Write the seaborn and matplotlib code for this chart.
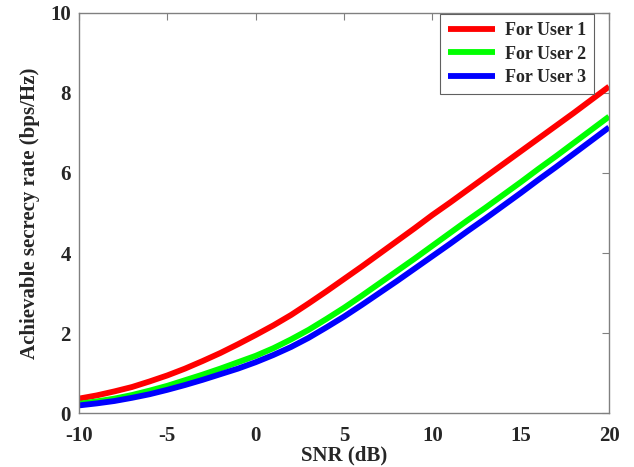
import matplotlib
matplotlib.use("Agg")
import matplotlib.pyplot as plt
import seaborn as sns
import pandas as pd

# SNR grid (dB) and achievable secrecy rate for each user (bps/Hz)
snr_db = list(range(-10, 21))
rate_user1 = [0.36, 0.44, 0.54, 0.65, 0.79, 0.94, 1.11, 1.30, 1.50, 1.72,
              1.95, 2.19, 2.45, 2.74, 3.04, 3.35, 3.66, 3.98, 4.30, 4.62,
              4.95, 5.26, 5.58, 5.90, 6.22, 6.54, 6.86, 7.18, 7.50, 7.83, 8.16]
rate_user2 = [0.23, 0.29, 0.36, 0.45, 0.56, 0.68, 0.82, 0.96, 1.11, 1.27,
              1.43, 1.62, 1.84, 2.08, 2.35, 2.63, 2.93, 3.24, 3.55, 3.86,
              4.18, 4.50, 4.82, 5.13, 5.45, 5.77, 6.10, 6.42, 6.75, 7.08, 7.41]
rate_user3 = [0.19, 0.24, 0.30, 0.38, 0.47, 0.58, 0.70, 0.83, 0.97, 1.11,
              1.27, 1.45, 1.65, 1.88, 2.14, 2.41, 2.70, 3.00, 3.30, 3.61,
              3.92, 4.23, 4.55, 4.86, 5.18, 5.50, 5.83, 6.15, 6.48, 6.81, 7.14]
series_names = ["For User 1", "For User 2", "For User 3"]
x_ticks = [-10, -5, 0, 5, 10, 15, 20]
y_ticks = [0, 2, 4, 6, 8, 10]

frames = []
for name, vals in zip(series_names, [rate_user1, rate_user2, rate_user3]):
    frames.append(pd.DataFrame({"snr": snr_db, "rate": vals, "user": name}))
df = pd.concat(frames, ignore_index=True)

sns.set_theme(style="white")
plt.rcParams["font.family"] = ["Liberation Serif", "DejaVu Serif"]
plt.rcParams["font.weight"] = "bold"

fig = plt.figure(figsize=(6.34, 4.67), dpi=100)
ax = fig.add_axes([0.1246, 0.1156, 0.836, 0.8566])

palette = {"For User 1": "#ff0000", "For User 2": "#00ff00", "For User 3": "#0000ff"}
sns.lineplot(data=df, x="snr", y="rate", hue="user", palette=palette,
             linewidth=4.2, ax=ax, legend=True)
for ln in ax.lines:
    ln.set_solid_joinstyle("round")
    ln.set_solid_capstyle("butt")

ax.set_xlim(-10, 20)
ax.set_ylim(0, 10)
ax.set_xticks(x_ticks)
ax.set_yticks(y_ticks)
ax.set_xticklabels([str(t) for t in x_ticks])
ax.set_yticklabels([str(t) for t in y_ticks])

label_color = "#262626"
ax.set_xlabel("SNR (dB)", fontsize=15, fontweight="bold", color=label_color, labelpad=0)
ax.set_ylabel("Achievable secrecy rate (bps/Hz)", fontsize=15, fontweight="bold",
              color=label_color, labelpad=7)

for sp in ax.spines.values():
    sp.set_visible(True)
    sp.set_color("#808080")
    sp.set_linewidth(1.0)

ax.tick_params(axis="both", which="major", direction="in", length=5, width=0.8,
               color="#808080", labelsize=15, labelcolor=label_color,
               top=True, right=True)
ax.tick_params(axis="x", pad=9)
ax.tick_params(axis="y", pad=6)
for lab in ax.get_xticklabels() + ax.get_yticklabels():
    lab.set_fontweight("bold")

handles, labels = ax.get_legend_handles_labels()
leg = ax.legend(handles, labels, loc="upper right", bbox_to_anchor=(0.9717, 0.9975),
                borderaxespad=0, frameon=True, fancybox=False, framealpha=1,
                edgecolor="#606060",
                prop={"family": "Liberation Serif", "weight": "bold", "size": 13},
                handlelength=2.6, handletextpad=0.55, borderpad=0.45,
                labelspacing=0.36)
leg.get_frame().set_linewidth(0.8)
for h in leg.get_lines():
    h.set_linewidth(4.2)

ax.grid(False)
fig.savefig("out.png", dpi=100)
